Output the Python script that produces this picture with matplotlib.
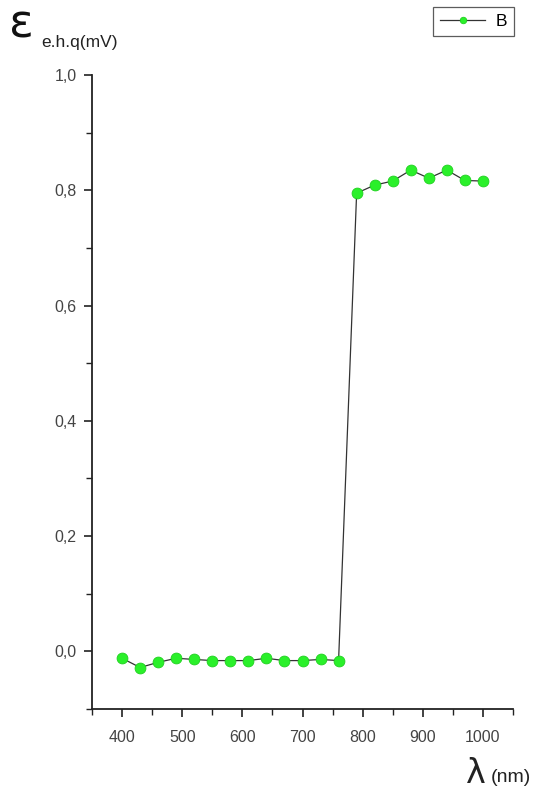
import matplotlib
matplotlib.use("Agg")
import matplotlib.pyplot as plt
from matplotlib.ticker import MultipleLocator, FuncFormatter

wavelength = [400, 430, 460, 490, 520, 550, 580, 610, 640, 670, 700, 730, 760,
              790, 820, 850, 880, 910, 940, 970, 1000]
emf = [-0.012, -0.028, -0.019, -0.012, -0.014, -0.016, -0.016, -0.016, -0.012,
       -0.016, -0.016, -0.014, -0.016,
       0.795, 0.809, 0.816, 0.835, 0.821, 0.835, 0.817, 0.816]
series_name = "B"

plt.rcParams['font.family'] = ['Liberation Sans', 'DejaVu Sans']

fig = plt.figure(figsize=(5.36, 7.9), dpi=100)
ax = fig.add_axes([92/536, 1-709/790, (513-92)/536, (709-75)/790])

ax.plot(wavelength, emf, color='#333333', lw=0.9, marker='o', ms=7.8,
        markerfacecolor='#2af02a', markeredgecolor='#20d020', markeredgewidth=0.6,
        label=series_name)

ax.set_xlim(350, 1050)
ax.set_ylim(-0.1, 1.0)
ax.xaxis.set_major_locator(MultipleLocator(100))
ax.xaxis.set_minor_locator(MultipleLocator(50))
ax.yaxis.set_major_locator(MultipleLocator(0.2))
ax.yaxis.set_minor_locator(MultipleLocator(0.1))
ax.yaxis.set_major_formatter(FuncFormatter(lambda v, p: f"{v:.1f}".replace('.', ',').replace('-0,0', '0,0')))
ax.set_xticks([400, 500, 600, 700, 800, 900, 1000])

for s in ['top', 'right']:
    ax.spines[s].set_visible(False)
for s in ['left', 'bottom']:
    ax.spines[s].set_linewidth(1.3)
    ax.spines[s].set_color('#222222')

ax.tick_params(which='major', direction='out', length=6, width=1.2, colors='#222222',
               labelsize=11.5, labelcolor='#444444')
ax.tick_params(which='minor', direction='out', length=4, width=1.0, colors='#222222')
ax.tick_params(axis='x', pad=9)
ax.tick_params(axis='y', pad=5)

fig.text(9/536, 1-38/790, "ε", fontsize=33, family='DejaVu Sans', weight='normal',
         color='#111111', va='baseline')
fig.text(41/536, 1-47/790, "e.h.q(mV)", fontsize=12.5, color='#222222', va='baseline')
fig.text(466/536, 1-783/790, "λ", fontsize=24, family='DejaVu Sans', color='#222222', va='baseline')
fig.text(491/536, 1-782/790, "(nm)", fontsize=14, color='#222222', va='baseline')

leg = ax.legend(loc='upper right', bbox_to_anchor=(514/536, 1-7/790),
                bbox_transform=fig.transFigure, frameon=True, fancybox=False,
                fontsize=12.5, handlelength=2.6, markerscale=0.6, borderpad=0.4,
                handletextpad=0.6, borderaxespad=0)
leg.get_frame().set_edgecolor('#333333')
leg.get_frame().set_linewidth(0.9)

fig.savefig("out.png", dpi=100)
